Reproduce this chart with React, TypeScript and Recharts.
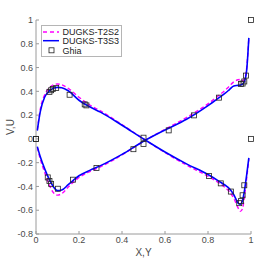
import React from 'react';
import { ComposedChart, Line, Scatter, XAxis, YAxis } from 'recharts';

// positions along the centrelines (X for V, Y for U)
const xs = [0.006, 0.02, 0.04, 0.06, 0.08, 0.1, 0.12, 0.15, 0.2, 0.25, 0.3, 0.4, 0.5, 0.6, 0.7, 0.8, 0.85, 0.88, 0.9, 0.92, 0.94, 0.95, 0.96, 0.97, 0.98, 0.99];

// DUGKS-T2S2 (dashed magenta)
const vT2S2 = [0.075, 0.25, 0.37, 0.425, 0.455, 0.462, 0.455, 0.425, 0.35, 0.285, 0.235, 0.12, 0.0, -0.115, -0.22, -0.315, -0.37, -0.41, -0.445, -0.5, -0.58, -0.61, -0.59, -0.48, -0.33, -0.17];
const uT2S2 = [-0.07, -0.17, -0.28, -0.38, -0.45, -0.473, -0.46, -0.405, -0.325, -0.275, -0.235, -0.135, -0.02, 0.08, 0.18, 0.295, 0.365, 0.41, 0.445, 0.48, 0.497, 0.5, 0.49, 0.505, 0.6, 0.85];

// DUGKS-T3S3 (solid blue)
const vT3S3 = [0.07, 0.23, 0.35, 0.4, 0.425, 0.433, 0.43, 0.405, 0.325, 0.27, 0.225, 0.115, 0.0, -0.11, -0.21, -0.3, -0.355, -0.39, -0.42, -0.47, -0.54, -0.55, -0.52, -0.43, -0.3, -0.16];
const uT3S3 = [-0.065, -0.15, -0.25, -0.335, -0.4, -0.435, -0.43, -0.385, -0.31, -0.265, -0.225, -0.13, -0.02, 0.075, 0.165, 0.28, 0.345, 0.385, 0.415, 0.445, 0.45, 0.453, 0.46, 0.485, 0.58, 0.85];

// Ghia et al. reference points
const ghiaX = [0, 0.0625, 0.0703, 0.0781, 0.0938, 0.1563, 0.2266, 0.2344, 0.5, 0.8047, 0.8594, 0.9063, 0.9453, 0.9531, 0.9609, 0.9688, 1];
const ghiaV = [0, 0.3956, 0.40917, 0.41906, 0.42768, 0.37119, 0.2903, 0.28188, 0.00999, -0.31184, -0.37401, -0.44307, -0.54053, -0.52357, -0.47425, -0.39017, 0];
const ghiaY = [0, 0.0547, 0.0625, 0.0703, 0.1016, 0.1719, 0.2813, 0.4531, 0.5, 0.6172, 0.7344, 0.8516, 0.9531, 0.9609, 0.9688, 0.9766, 1];
const ghiaU = [0, -0.32407, -0.35344, -0.37827, -0.41933, -0.34323, -0.24427, -0.08664, -0.04272, 0.07156, 0.19791, 0.34682, 0.46101, 0.46547, 0.48296, 0.53236, 1];

const xTicks = [0, 0.2, 0.4, 0.6, 0.8, 1];
const yTicks = [-0.8, -0.6, -0.4, -0.2, 0, 0.2, 0.4, 0.6, 0.8, 1];

const FONT = '"Liberation Sans", Arial, Helvetica, sans-serif';
const AXIS = '#9a9a9a';
const TEXT = '#4a4a4a';

const toPts = (px: number[], vals: number[]) => px.map((x, i) => ({ x, y: vals[i] }));

const ghiaPts = [...toPts(ghiaX, ghiaV), ...toPts(ghiaY, ghiaU)];

const Square = (p: any) => (
  <rect x={p.cx - 2.5} y={p.cy - 2.5} width={5} height={5} fill="none" stroke="#222" strokeWidth={0.8} />
);

function LegendBox() {
  return (
    <div style={{ position: 'absolute', left: 41, top: 25, width: 81, height: 32, border: '1px solid #b5b5b5', background: '#fff', boxSizing: 'border-box' }}>
      <svg width={81} height={32} style={{ position: 'absolute', left: -1, top: -1 }}>
        <line x1={2} x2={18} y1={7} y2={7} stroke="#ff00ff" strokeWidth={1.3} strokeDasharray="4 3" />
        <text x={21.5} y={10.2} fontSize={9} fill="#222" fontFamily={FONT}>DUGKS-T2S2</text>
        <line x1={2} x2={18} y1={15.7} y2={15.7} stroke="#0000ff" strokeWidth={1.5} />
        <text x={21.5} y={18.9} fontSize={9} fill="#222" fontFamily={FONT}>DUGKS-T3S3</text>
        <rect x={8} y={22.8} width={5} height={5} fill="none" stroke="#222" strokeWidth={0.8} />
        <text x={21.5} y={28.5} fontSize={9} fill="#222" fontFamily={FONT}>Ghia</text>
      </svg>
    </div>
  );
}

export default function App() {
  const tick = { fontSize: 9, fill: TEXT, fontFamily: FONT };
  return (
    <div style={{ position: 'absolute', left: 0, top: 0, width: 277, height: 263, background: '#fff' }}>
      <ComposedChart width={277} height={263} margin={{ top: 20, right: 26, bottom: 0, left: 0 }}>
        <XAxis
          dataKey="x"
          type="number"
          domain={[0, 1]}
          ticks={xTicks}
          height={29}
          stroke={AXIS}
          tick={tick}
          tickSize={-3}
          tickMargin={6}
          label={{
            content: ({ viewBox }: any) => (
              <text x={viewBox.x + viewBox.width / 2} y={viewBox.y + 22} textAnchor="middle" fontSize={10} fill={TEXT} fontFamily={FONT}>X,Y</text>
            ),
          }}
        />
        <XAxis xAxisId="top" orientation="top" type="number" domain={[0, 1]} ticks={xTicks} height={0} stroke={AXIS} tick={false} tickSize={-3} />
        <YAxis
          dataKey="y"
          type="number"
          domain={[-0.8, 1]}
          ticks={yTicks}
          width={36}
          stroke={AXIS}
          tick={tick}
          tickSize={-3}
          tickMargin={6}
          label={{
            content: ({ viewBox }: any) => {
              const cx = viewBox.x + 13.5;
              const cy = viewBox.y + viewBox.height / 2;
              return (
                <text x={cx} y={cy} transform={`rotate(-90, ${cx}, ${cy})`} textAnchor="middle" fontSize={10} fill={TEXT} fontFamily={FONT}>V,U</text>
              );
            },
          }}
        />
        <YAxis yAxisId="right" orientation="right" type="number" domain={[-0.8, 1]} ticks={yTicks} width={0} stroke={AXIS} tick={false} tickSize={-3} />
        <Line data={toPts(xs, vT2S2)} dataKey="y" type="monotone" stroke="#ff00ff" strokeWidth={1.4} strokeDasharray="4 2.5" dot={false} activeDot={false} isAnimationActive={false} />
        <Line data={toPts(xs, uT2S2)} dataKey="y" type="monotone" stroke="#ff00ff" strokeWidth={1.4} strokeDasharray="4 2.5" dot={false} activeDot={false} isAnimationActive={false} />
        <Line data={toPts(xs, vT3S3)} dataKey="y" type="monotone" stroke="#0000ff" strokeWidth={1.6} dot={false} activeDot={false} isAnimationActive={false} />
        <Line data={toPts(xs, uT3S3)} dataKey="y" type="monotone" stroke="#0000ff" strokeWidth={1.6} dot={false} activeDot={false} isAnimationActive={false} />
        <Scatter data={ghiaPts} dataKey="y" shape={Square} isAnimationActive={false} />
      </ComposedChart>
      <LegendBox />
    </div>
  );
}
